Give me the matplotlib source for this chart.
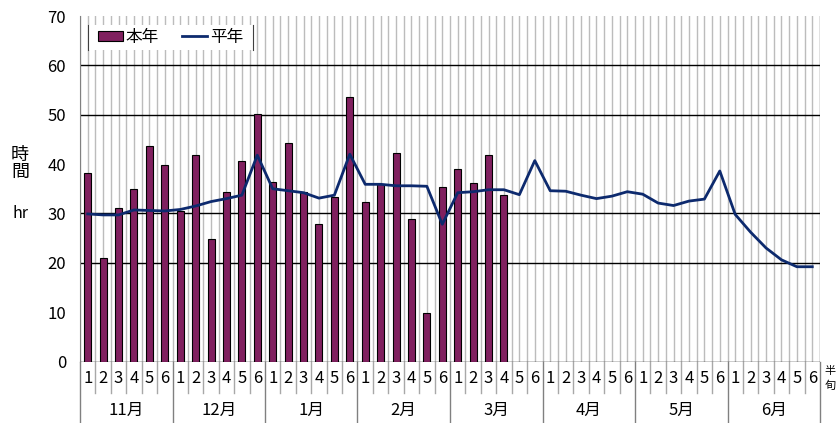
import matplotlib
matplotlib.use("Agg")
import matplotlib.pyplot as plt
from matplotlib.patches import Rectangle, Patch
from matplotlib.lines import Line2D
import numpy as np

plt.rcParams['font.family'] = ['Noto Sans CJK JP', 'DejaVu Sans']

# 半旬 (6 per month), Nov .. Jun
months = ['11月', '12月', '1月', '2月', '3月', '4月', '5月', '6月']
pentads = ['1', '2', '3', '4', '5', '6']

# 本年 (Nov1 .. Mar4)
this_year = [38.2, 20.9, 31.1, 34.9, 43.7, 39.8,
             30.5, 41.9, 24.8, 34.3, 40.6, 50.1,
             36.3, 44.3, 34.3, 27.9, 33.3, 53.6,
             32.3, 36.0, 42.2, 28.8, 9.8, 35.3,
             39.0, 36.2, 41.9, 33.7]

# 平年 (Nov1 .. Jun6)
normal = [29.9, 29.7, 29.7, 30.7, 30.6, 30.5,
          30.8, 31.5, 32.4, 33.0, 33.7, 41.8,
          35.0, 34.6, 34.2, 33.1, 33.7, 42.0,
          35.9, 35.9, 35.6, 35.6, 35.5, 27.8,
          34.2, 34.4, 34.8, 34.8, 33.8, 40.7,
          34.6, 34.5, 33.7, 33.0, 33.5, 34.4,
          33.9, 32.1, 31.6, 32.5, 32.9, 38.6,
          29.8, 26.2, 23.0, 20.6, 19.2, 19.2]

bar_color = '#80205f'
line_color = '#0d2a6e'

n = len(months) * len(pentads)
x = np.arange(n)

fig = plt.figure(figsize=(8.4, 4.23), dpi=100)
ax = fig.add_axes([80 / 840, 61.5 / 423, 740 / 840, 345.5 / 423])

# light vertical grid, two per category
for xv in np.arange(-0.5, n, 0.5):
    ax.axvline(xv, color='#bcbcbc', lw=1.0, zorder=0)
ax.axvline(n - 0.5, color='#a0a0a0', lw=1.0, zorder=0)

# horizontal grid (40 and 10 are missing in the original)
for yv in [20, 30, 50, 60]:
    ax.axhline(yv, color='black', lw=1.0, zorder=1)
ax.axhline(0, color='black', lw=1.0, zorder=1)

ax.bar(x[:len(this_year)], this_year, width=0.45, color=bar_color,
       edgecolor='black', linewidth=0.8, zorder=3)
ax.plot(x, normal, color=line_color, lw=2, zorder=4)

ax.set_xlim(-0.5, n - 0.5)
ax.set_ylim(0, 70)
ax.set_yticks(range(0, 71, 10))
ax.tick_params(axis='y', length=0, pad=10, labelsize=12)
ax.set_xticks([])
for s in ['top', 'right', 'bottom']:
    ax.spines[s].set_visible(False)
ax.spines['left'].set_color('#808080')

# two-row category labels
trans = ax.get_xaxis_transform()
y_row1 = (361.5 - 378) / 345.5
y_row2 = (361.5 - 410) / 345.5
y_sep1 = (361.5 - 393) / 345.5
y_bot = (361.5 - 423) / 345.5
for i in range(n):
    ax.text(x[i], y_row1, pentads[i % 6], transform=trans, ha='center',
            va='center', fontsize=12, clip_on=False)
for i in range(1, n):
    if i % 6 == 0:
        ax.plot([i - 0.5, i - 0.5], [0, y_bot], transform=trans,
                color='#808080', lw=1, clip_on=False)
    else:
        ax.plot([i - 0.5, i - 0.5], [0, y_sep1], transform=trans,
                color='#a8a8a8', lw=1, clip_on=False)
ax.plot([-0.5, -0.5], [0, y_bot], transform=trans, color='#808080', lw=1, clip_on=False)
ax.plot([n - 0.5, n - 0.5], [0, y_bot], transform=trans, color='#808080', lw=1, clip_on=False)
for m, name in enumerate(months):
    ax.text(m * 6 + 2.5, y_row2, name, transform=trans, ha='center',
            va='center', fontsize=12, clip_on=False)

# legend box (white, side borders only)
lx0, lx1 = (88 - 80) / 740, (253 - 80) / 740
ly0, ly1 = (361.5 - 50) / 345.5, (361.5 - 25) / 345.5
ax.add_patch(Rectangle((lx0, ly0), lx1 - lx0, ly1 - ly0, transform=ax.transAxes,
                       facecolor='white', edgecolor='none', zorder=5))
for xv in (lx0, lx1):
    ax.plot([xv, xv], [ly0, ly1], transform=ax.transAxes, color='#404040',
            lw=0.8, zorder=6)
handles = [Patch(facecolor=bar_color, edgecolor='black', linewidth=0.8),
           Line2D([0], [0], color=line_color, lw=2)]
leg = ax.legend(handles, ['本年', '平年'], loc='center',
                bbox_to_anchor=((lx0 + lx1) / 2, (ly0 + ly1) / 2), ncol=2,
                frameon=False, fontsize=12, handlelength=1.5, handleheight=0.6,
                handletextpad=0.15, columnspacing=1.4, borderaxespad=0)
leg.set_zorder(7)

# axis titles
fig.text(20 / 840, 1 - 155 / 423, '時', ha='center', va='center', fontsize=13)
fig.text(20 / 840, 1 - 172 / 423, '間', ha='center', va='center', fontsize=13)
fig.text(20 / 840, 1 - 213 / 423, 'hr', ha='center', va='center', fontsize=11.5)
fig.text(830 / 840, 1 - 371 / 423, '半', ha='center', va='center', fontsize=8)
fig.text(830 / 840, 1 - 386 / 423, '旬', ha='center', va='center', fontsize=8)

fig.savefig('out.png', dpi=100)
